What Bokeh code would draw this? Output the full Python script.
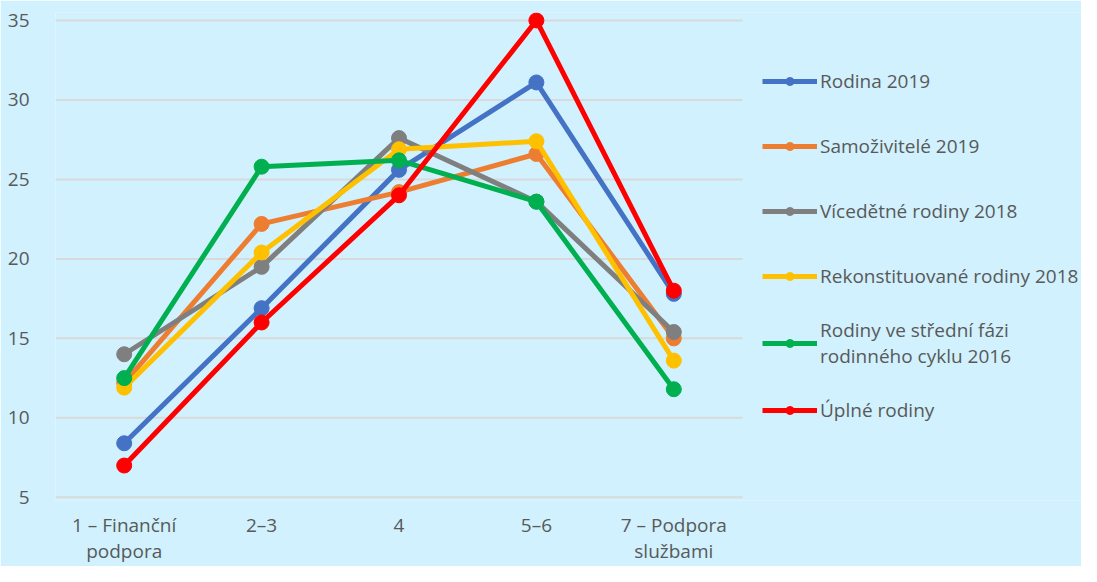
from bokeh.plotting import figure
from bokeh.models import Range1d, FixedTicker, Legend, LegendItem
from bokeh.embed import file_html
from bokeh.resources import INLINE

categories = ["1 – Finanční\npodpora", "2–3", "4", "5–6", "7 – Podpora\nslužbami"]
series_names = [
    "Rodina 2019",
    "Samoživitelé 2019",
    "Vícedětné rodiny 2018",
    "Rekonstituované rodiny 2018",
    "Rodiny ve střední fázi\nrodinného cyklu 2016",
    "Úplné rodiny",
]
rodina_2019 = [8.4, 16.9, 25.6, 31.1, 17.8]
samozivitele_2019 = [12.2, 22.2, 24.2, 26.6, 15.0]
vicedetne_2018 = [14.0, 19.5, 27.6, 23.6, 15.4]
rekonstituovane_2018 = [11.9, 20.4, 26.9, 27.4, 13.6]
stredni_faze_2016 = [12.5, 25.8, 26.2, 23.6, 11.8]
uplne_rodiny = [7.0, 16.0, 24.0, 35.0, 18.0]
y_ticks = [5, 10, 15, 20, 25, 30, 35]

series_values = [rodina_2019, samozivitele_2019, vicedetne_2018,
                 rekonstituovane_2018, stredni_faze_2016, uplne_rodiny]
colors = ["#4472C4", "#ED7D31", "#7F7F7F", "#FFC000", "#00B050", "#FF0000"]

FONT = "Open Sans"
BG = "#D0F1FD"
TXT = "#595959"

n = len(categories)
xs = list(range(1, n + 1))

W, H = 1081, 566
ML, MT = 55, 12
CAT_PX = 137.4                      # width of one category slot
x_end = 0.5 + (W - ML) / CAT_PX     # frame extends under the legend area

p = figure(width=W, height=H, output_backend="svg", toolbar_location=None,
           x_range=Range1d(0.5, x_end), y_range=Range1d(4.8, 35.5),
           min_border_left=ML, min_border_right=0, min_border_top=MT, min_border_bottom=40)
p.background_fill_color = BG
p.border_fill_color = BG
p.outline_line_color = None

p.xgrid.grid_line_color = None
p.ygrid.grid_line_color = None
p.segment(x0=[0.5] * len(y_ticks), x1=[n + 0.5] * len(y_ticks), y0=y_ticks, y1=y_ticks,
          line_color="#D9D9D9", line_width=2)

p.yaxis.ticker = FixedTicker(ticks=y_ticks)
p.xaxis.ticker = FixedTicker(ticks=xs)
p.xaxis.major_label_overrides = {x: c for x, c in zip(xs, categories)}
for ax in (p.xaxis, p.yaxis):
    ax.axis_line_color = None
    ax.major_tick_line_color = None
    ax.minor_tick_line_color = None
    ax.major_label_text_font = FONT
    ax.major_label_text_font_size = "19px"
    ax.major_label_text_color = TXT
p.yaxis.major_label_standoff = 20
p.xaxis.major_label_standoff = 5
p.xaxis.major_label_text_line_height = 1.0

items = []
for name, vals, col in zip(series_names, series_values, colors):
    l = p.line(xs, vals, line_color=col, line_width=5)
    c = p.scatter(xs, vals, size=15, fill_color=col, line_color=col)
    items.append(LegendItem(label=name, renderers=[l, c]))

legend = Legend(items=items, location=(n * CAT_PX + 20, 66), orientation="vertical")
legend.background_fill_alpha = 0
legend.border_line_alpha = 0
legend.label_text_font = FONT
legend.label_text_font_size = "19px"
legend.label_text_color = TXT
legend.label_text_line_height = 1.25
legend.glyph_width = 55
legend.glyph_height = 20
legend.label_standoff = 3
legend.label_height = 48
legend.spacing = 17
legend.padding = 0
legend.margin = 0
p.add_layout(legend, "center")

open("out.html", "w").write(file_html(p, INLINE))
